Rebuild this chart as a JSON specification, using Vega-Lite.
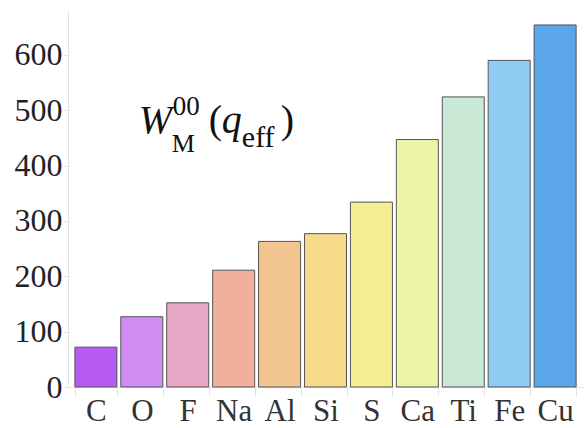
{
  "$schema": "https://vega.github.io/schema/vega-lite/v6.json",
  "autosize": {"type": "none"},
  "padding": {"left": 68, "top": 10, "right": 1, "bottom": 41},
  "width": 515,
  "height": 377,
  "background": "white",
  "config": {
    "view": {"stroke": null},
    "font": "Liberation Serif"
  },
  "datasets": {
    "bars": [
      {"el": "C", "val": 72},
      {"el": "O", "val": 127},
      {"el": "F", "val": 152},
      {"el": "Na", "val": 211},
      {"el": "Al", "val": 263},
      {"el": "Si", "val": 277},
      {"el": "S", "val": 334},
      {"el": "Ca", "val": 447},
      {"el": "Ti", "val": 524},
      {"el": "Fe", "val": 590},
      {"el": "Cu", "val": 654}
    ],
    "label": [
      {"el": "O", "main": 459, "sup": 491, "sub": 424.5, "sub2": 433.5, "W": "W", "zz": "00", "M": "M", "lp": "(", "q": "q", "eff": "eff", "rp": ")"}
    ]
  },
  "layer": [
    {
      "data": {"name": "bars"},
      "mark": {"type": "bar", "stroke": "#555555", "strokeWidth": 1},
      "encoding": {
        "x": {
          "field": "el", "type": "nominal", "sort": null,
          "scale": {"paddingInner": 0.085, "paddingOuter": 0.15},
          "axis": {
            "title": null, "labelAngle": 0, "labelFontSize": 31, "labelColor": "#333333",
            "labelFont": "Liberation Serif",
            "domainColor": "#e2e2e2", "tickColor": "#e2e2e2", "tickSize": 9,
            "tickBand": "extent", "labelPadding": 0
          }
        },
        "y": {
          "field": "val", "type": "quantitative",
          "scale": {"domain": [0, 681], "nice": false},
          "axis": {
            "title": null, "values": [0, 100, 200, 300, 400, 500, 600],
            "labelFontSize": 32, "labelColor": "#222222", "labelFont": "Liberation Serif",
            "domainColor": "#e2e2e2", "tickColor": "#e2e2e2", "tickSize": 4,
            "labelPadding": 2, "grid": false
          }
        },
        "color": {
          "field": "el", "type": "nominal", "legend": null,
          "scale": {
            "domain": ["C", "O", "F", "Na", "Al", "Si", "S", "Ca", "Ti", "Fe", "Cu"],
            "range": ["#b65cf5", "#d08cf2", "#e6a8c4", "#f0b09a", "#f3c590", "#f5da8c", "#f5ef92", "#eef3aa", "#c9e8d6", "#8fcbf3", "#5aa6e8"]
          }
        }
      }
    },
    {
      "data": {"name": "label"},
      "mark": {"type": "text", "align": "left", "baseline": "alphabetic", "font": "Liberation Serif", "fontStyle": "italic", "fontSize": 40, "dx": -3, "color": "#111111"},
      "encoding": {"x": {"field": "el", "type": "nominal", "sort": null}, "y": {"field": "main", "type": "quantitative"}, "text": {"field": "W"}}
    },
    {
      "data": {"name": "label"},
      "mark": {"type": "text", "align": "left", "baseline": "alphabetic", "font": "Liberation Serif", "fontSize": 27, "dx": 31, "color": "#111111"},
      "encoding": {"x": {"field": "el", "type": "nominal", "sort": null}, "y": {"field": "sup", "type": "quantitative"}, "text": {"field": "zz"}}
    },
    {
      "data": {"name": "label"},
      "mark": {"type": "text", "align": "left", "baseline": "alphabetic", "font": "Liberation Serif", "fontSize": 26, "dx": 30, "color": "#111111"},
      "encoding": {"x": {"field": "el", "type": "nominal", "sort": null}, "y": {"field": "sub", "type": "quantitative"}, "text": {"field": "M"}}
    },
    {
      "data": {"name": "label"},
      "mark": {"type": "text", "align": "left", "baseline": "alphabetic", "font": "Liberation Serif", "fontSize": 40, "dx": 67, "color": "#111111"},
      "encoding": {"x": {"field": "el", "type": "nominal", "sort": null}, "y": {"field": "main", "type": "quantitative"}, "text": {"field": "lp"}}
    },
    {
      "data": {"name": "label"},
      "mark": {"type": "text", "align": "left", "baseline": "alphabetic", "font": "Liberation Serif", "fontStyle": "italic", "fontSize": 40, "dx": 80, "color": "#111111"},
      "encoding": {"x": {"field": "el", "type": "nominal", "sort": null}, "y": {"field": "main", "type": "quantitative"}, "text": {"field": "q"}}
    },
    {
      "data": {"name": "label"},
      "mark": {"type": "text", "align": "left", "baseline": "alphabetic", "font": "Liberation Serif", "fontSize": 30, "dx": 100, "color": "#111111"},
      "encoding": {"x": {"field": "el", "type": "nominal", "sort": null}, "y": {"field": "sub2", "type": "quantitative"}, "text": {"field": "eff"}}
    },
    {
      "data": {"name": "label"},
      "mark": {"type": "text", "align": "left", "baseline": "alphabetic", "font": "Liberation Serif", "fontSize": 40, "dx": 139, "color": "#111111"},
      "encoding": {"x": {"field": "el", "type": "nominal", "sort": null}, "y": {"field": "main", "type": "quantitative"}, "text": {"field": "rp"}}
    }
  ]
}
